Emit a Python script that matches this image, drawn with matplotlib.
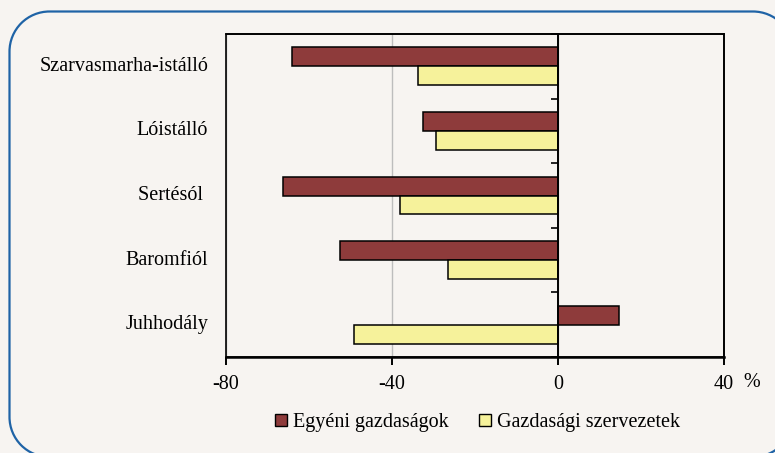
import matplotlib
matplotlib.use("Agg")
import numpy as np
import matplotlib.pyplot as plt
from matplotlib.patches import Rectangle, PathPatch
from matplotlib.path import Path
from matplotlib.lines import Line2D
from matplotlib.transforms import Affine2D, blended_transform_factory

# data (% change)
categories = ["Szarvasmarha-istálló", "Lóistálló", "Sertésól ", "Baromfiól", "Juhhodály"]
egyeni = [-64.0, -32.6, -66.3, -52.5, 14.7]
szervezetek = [-33.8, -29.3, -38.0, -26.5, -49.2]
series_names = ["Egyéni gazdaságok", "Gazdasági szervezetek"]
xticks = [-80, -40, 0, 40]

bg = "#f7f4f1"
red = "#8e3b3b"
yellow = "#f6f29b"

plt.rcParams["font.family"] = ["Liberation Serif", "DejaVu Serif"]
plt.rcParams["font.size"] = 14.5

W, H = 775, 453
fig = plt.figure(figsize=(W / 100, H / 100), dpi=100, facecolor=bg)


def rounded_box(x0, y0, x1, y1, r):
    # rounded rectangle in pixel units (y measured from the bottom)
    pts, codes = [], []
    corners = [((x1 - r, y0 + r), 270), ((x1 - r, y1 - r), 0),
               ((x0 + r, y1 - r), 90), ((x0 + r, y0 + r), 180)]
    for (cx, cy), start in corners:
        arc = Path.arc(start, start + 90)
        v = Affine2D().scale(r).translate(cx, cy).transform(arc.vertices)
        c = list(arc.codes)
        if pts:
            c[0] = Path.LINETO
        pts.extend(v)
        codes.extend(c)
    pts.append(pts[0])
    codes.append(Path.LINETO)
    return Path(np.array(pts) / [W, H], codes)


fig.patches.append(PathPatch(rounded_box(9.5, -4, 793, 441.5, 40),
                             transform=fig.transFigure, fill=False,
                             ec="#1f63a6", lw=1.6))

ax = fig.add_axes([0.2916, 0.2119, 0.6426, 0.713])
ax.set_facecolor(bg)

y = np.arange(len(categories))
h = 0.293
ax.barh(y - h / 2, egyeni, height=h, color=red, edgecolor="black", linewidth=1.1, zorder=3)
ax.barh(y + h / 2, szervezetek, height=h, color=yellow, edgecolor="black", linewidth=1.1, zorder=3)

ax.set_xlim(-80, 40)
ax.set_ylim(len(categories) - 0.5, -0.5)
ax.set_xticks(xticks)
ax.set_xticklabels([str(t) for t in xticks])

# value axis sits at zero, ticks between categories
ax.spines["left"].set_position(("data", 0))
ax.spines["left"].set_linewidth(1.4)
ax.spines["left"].set_zorder(4)
ax.set_yticks(np.arange(len(categories) + 1) - 0.5)
ax.set_yticklabels([])
ax.tick_params(axis="y", direction="out", length=5, width=1.2)
ax.tick_params(axis="x", direction="out", length=6, width=1.4, pad=7)
for s in ["top", "right"]:
    ax.spines[s].set_linewidth(1.2)
ax.spines["bottom"].set_linewidth(1.8)
ax.add_patch(Rectangle((0, 0), 1, 1, transform=ax.transAxes, fill=False,
                       ec="black", lw=1.2, clip_on=False, zorder=5))

ax.grid(axis="x", color="#bdbdbd", lw=1)
ax.grid(axis="y", visible=False)
ax.set_axisbelow(True)

trans = blended_transform_factory(ax.transAxes, ax.transData)
for i, name in enumerate(categories):
    ax.text(-0.036, i, name, transform=trans, ha="right", va="center")

ax.text(1.038, -0.08, "%", transform=ax.transAxes, ha="left", va="center")

handles = [Line2D([], [], marker="s", ls="none", markersize=9, markerfacecolor=c,
                  markeredgecolor="black", markeredgewidth=1) for c in (red, yellow)]
fig.legend(handles, series_names, loc="center", bbox_to_anchor=(0.615, 0.068),
           ncol=2, frameon=False, handlelength=0.8, handletextpad=0.2,
           columnspacing=1.4)

fig.savefig("out.png", dpi=100, facecolor=bg)
